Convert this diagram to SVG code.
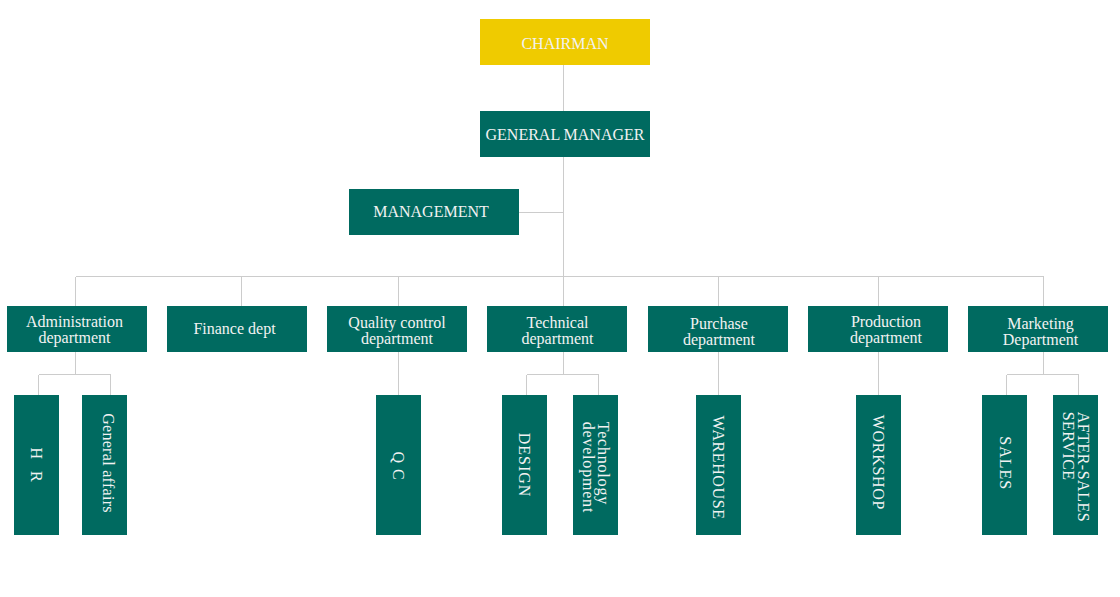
<svg xmlns="http://www.w3.org/2000/svg" width="1120" height="597" viewBox="0 0 1120 597">
<style>
.box{fill:#006A60}
.chair{fill:#EFCB00}
.t{font-family:"Liberation Serif","Times New Roman",serif;font-size:16px;fill:#F2F2F2;text-anchor:middle}
.v{font-family:"Liberation Serif","Times New Roman",serif;font-size:16px;fill:#F2F2F2;text-anchor:middle;letter-spacing:1px}
.vs{font-family:"Liberation Serif","Times New Roman",serif;font-size:16px;fill:#F2F2F2;text-anchor:start;letter-spacing:0.8px}
.c{stroke:#CCCCCC;stroke-width:1;fill:none;shape-rendering:crispEdges}
</style>
<rect width="1120" height="597" fill="#FFFFFF"/>
<g id="connectors">
<path class="c" d="M563.5 65V111M563.5 157V306M519 212.5H563.5M75.5 276.5H1043.5"/>
<path class="c" d="M75.5 276.5V306M241.5 276.5V306M398.5 276.5V306M718.5 276.5V306M878.5 276.5V306M1043.5 276.5V306"/>
<path class="c" d="M75.5 352V374.5M38.5 374.5H110.5M38.5 374.5V395M110.5 374.5V395"/>
<path class="c" d="M398.5 352V395"/>
<path class="c" d="M563.5 352V374.5M526.5 374.5H598.5M526.5 374.5V395M598.5 374.5V395"/>
<path class="c" d="M718.5 352V395M878.5 352V395"/>
<path class="c" d="M1043.5 352V374.5M1006.5 374.5H1078.5M1006.5 374.5V395M1078.5 374.5V395"/>
</g>
<g id="chairman"><rect class="chair" x="480" y="19" width="170" height="46"/><text class="t" x="565" y="49">CHAIRMAN</text></g>
<g id="general-manager"><rect class="box" x="480" y="111" width="170" height="46"/><text class="t" x="565" y="140">GENERAL MANAGER</text></g>
<g id="management"><rect class="box" x="349" y="189" width="170" height="46"/><text class="t" x="431" y="217">MANAGEMENT</text></g>

<g id="administration"><rect class="box" x="7" y="306" width="140" height="46"/><text class="t" x="74.5" y="327">Administration<tspan x="74.5" y="342.5">department</tspan></text></g>
<g id="finance"><rect class="box" x="167" y="306" width="140" height="46"/><text class="t" x="234.5" y="334">Finance dept</text></g>
<g id="quality-control"><rect class="box" x="327" y="306" width="140" height="46"/><text class="t" x="397" y="328">Quality control<tspan x="397" y="344">department</tspan></text></g>
<g id="technical"><rect class="box" x="487" y="306" width="140" height="46"/><text class="t" x="557.5" y="328">Technical<tspan x="557.5" y="344">department</tspan></text></g>
<g id="purchase"><rect class="box" x="648" y="306" width="140" height="46"/><text class="t" x="719" y="329">Purchase<tspan x="719" y="345">department</tspan></text></g>
<g id="production"><rect class="box" x="808" y="306" width="140" height="46"/><text class="t" x="886" y="327">Production<tspan x="886" y="343">department</tspan></text></g>
<g id="marketing"><rect class="box" x="968" y="306" width="140" height="46"/><text class="t" x="1040.5" y="329">Marketing<tspan x="1040.5" y="345">Department</tspan></text></g>

<g id="hr"><rect class="box" x="14" y="395" width="45" height="140"/><text class="v" transform="translate(31.2 465) rotate(90)" word-spacing="6">H R</text></g>
<g id="general-affairs"><rect class="box" x="82" y="395" width="45" height="140"/><text class="v" style="letter-spacing:0.3px" transform="translate(102.5 463) rotate(90)">General affairs</text></g>
<g id="qc"><rect class="box" x="376" y="395" width="45" height="140"/><text class="v" transform="translate(392.5 466) rotate(90)">Q C</text></g>
<g id="design"><rect class="box" x="502" y="395" width="45" height="140"/><text class="v" transform="translate(518.5 465) rotate(90)">DESIGN</text></g>
<g id="technology-development"><rect class="box" x="573" y="395" width="45" height="140"/><text class="vs" transform="translate(597.5 421.7) rotate(90)">Technology<tspan x="0" dy="14.7">development</tspan></text></g>
<g id="warehouse"><rect class="box" x="696" y="395" width="45" height="140"/><text class="v" style="letter-spacing:0.6px" transform="translate(713 467.5) rotate(90)">WAREHOUSE</text></g>
<g id="workshop"><rect class="box" x="856" y="395" width="45" height="140"/><text class="v" style="letter-spacing:0.7px" transform="translate(873 462.5) rotate(90)">WORKSHOP</text></g>
<g id="sales"><rect class="box" x="982" y="395" width="45" height="140"/><text class="v" transform="translate(999.7 463.3) rotate(90)">SALES</text></g>
<g id="after-sales"><rect class="box" x="1053" y="395" width="45" height="140"/><text class="vs" style="letter-spacing:0.5px" transform="translate(1077.5 411.7) rotate(90)">AFTER-SALES<tspan x="0" dy="15">SERVICE</tspan></text></g>
</svg>
